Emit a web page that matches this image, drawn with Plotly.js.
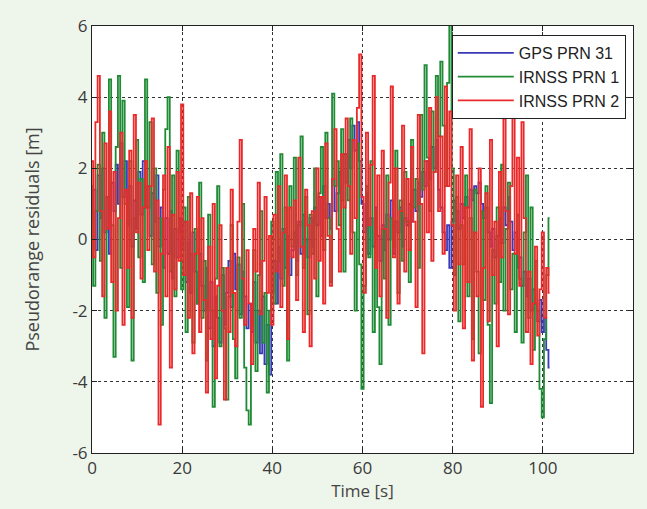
<!DOCTYPE html>
<html>
<head>
<meta charset="utf-8">
<script src="https://cdn.plot.ly/plotly-3.0.1.min.js"></script>
<style>html,body{margin:0;padding:0;background:#eef5ea;}#chart{width:647px;height:509px;}</style>
</head>
<body>
<div id="chart"></div>
<script>
// Sampling interval of the residual series [s]
const sampleInterval = 0.5;

const seriesNames = ["GPS PRN 31", "IRNSS PRN 1", "IRNSS PRN 2"];

const gpsPrn31 = [
  0.5, 1.4, -0.3, 1.8, 0.6, 2.0, 0.2, 1.2, -0.4, 1.6,
  0.8, 2.1, 1.0, 2.7, 1.2, 2.2, 0.4, 1.5, -0.2, 1.1,
  0.3, 1.9, 0.7, 2.2, 0.9, 1.5, 0.1, 1.3, 0.5, 1.8,
  -0.2, 0.9, -0.8, 0.6, -0.4, 0.8, -1.1, 0.3, -0.5, 0.6,
  -0.3, 0.5, -1.2, -0.1, -1.5, 0.2, -0.9, -1.8, -0.4, -1.3,
  -2.0, -0.8, -2.5, -1.2, -3.0, -1.6, -2.2, -2.9, -1.0, -2.4,
  -1.5, -0.6, -1.9, -0.4, -1.4, -0.7, -2.1, -0.9, -1.6, -2.5,
  -1.8, -2.6, -1.2, -2.9, -2.0, -3.2, -1.6, -3.5, -2.4, -3.8,
  -1.5, -0.6, -1.8, -0.2, -1.1, 0.3, -0.8, 0.1, -1.0, -0.3,
  0.2, -0.6, 0.5, -0.4, 0.7, 0.0, -0.5, 0.6, -0.2, 0.9,
  0.4, 1.2, 0.1, 1.5, 0.6, 1.0, 0.3, 1.7, 0.8, 1.3,
  1.9, 1.1, 2.4, 1.6, 2.8, 2.0, 3.2, 2.5, 3.3, 2.2,
  1.0, 0.2, 1.3, -0.4, 0.6, -0.2, 0.9, 0.1, -0.6, 0.4,
  -0.3, 0.7, 0.0, 1.1, -0.4, 0.5, 0.2, 0.9, -0.2, 0.6,
  0.4, 1.0, 0.5, 1.4, 0.8, 1.6, 1.2, 1.9, 1.5, 2.2,
  1.7, 2.6, 2.0, 2.8, 1.4, 0.9, 0.2, -0.3, 0.4, -0.8,
  0.5, 1.1, 0.8, 0.3, 1.0, 0.6, 1.2, 0.9, 1.4, 1.1,
  1.5, 1.3, 1.6, 1.0, 0.6, 0.9, 0.2, -0.2, 0.3, -0.5,
  0.1, 0.6, -0.1, 0.9, 0.4, 1.2, 0.5, -0.3, 0.2, -0.8,
  -0.5, -1.3, -0.9, -1.6, -1.1, -2.0, -1.4, -1.8, -2.3, -1.7,
  -2.6, -2.2, -3.1, -3.6
];

const irnssPrn1 = [
  1.5, -1.3, 0.8, 2.1, -0.6, 3.0, -2.2, 1.2, 4.5, 0.4,
  -3.3, 2.6, 4.6, -0.8, 3.9, 1.0, -1.9, 2.2, -3.4, 0.6,
  2.8, -0.5, 1.7, -1.2, 4.5, 0.9, 3.3, -0.7, 2.0, -1.5,
  0.6, -2.4, 1.4, 3.1, 4.0, -0.9, 1.8, -1.6, 2.5, 0.2,
  -1.4, 0.9, -2.6, 1.2, -0.4, -2.9, 0.3, -1.8, 1.6, -2.2,
  -0.6, -3.4, 0.7, -2.0, -4.7, -1.1, 1.5, -3.0, -0.8, -2.5,
  -4.5, -1.6, 0.4, -2.8, -3.9, -0.5, -2.2, 1.0, -3.6, -4.8,
  -5.2, -2.4, -0.3, -3.7, -1.0, 0.8, -2.9, -1.5, -4.3, -2.0,
  0.5, -1.8, 1.9, -0.6, 2.4, -1.3, 0.9, -3.4, 1.5, -0.2,
  2.3, -1.0, 0.4, 2.9, -0.8, 1.2, -2.1, 0.7, -0.4, 2.0,
  -1.6, 1.3, 2.6, -0.3, 3.0, 0.6, -1.2, 4.1, 1.5, 2.2,
  0.4, 3.1, -0.9, 2.4, 1.1, 3.4, 0.2, -2.0, 2.7, -0.7,
  -4.2, -1.3, 1.5, -0.5, 2.2, -2.6, 0.8, -1.9, -3.5, 0.3,
  -1.1, 1.8, -2.4, 0.6, -0.2, 2.5, -1.5, 1.1, -0.6, 1.9,
  0.5, -1.2, 2.8, 0.9, 1.7, -0.8, 3.5, 1.4, 4.9, 2.3,
  0.8, 3.6, 1.9, 4.6, 2.9, 5.0, 3.2, 1.5, 4.4, 6.2,
  2.0, -1.0, 1.2, -2.3, 0.4, -0.7, 1.8, -1.6, 0.6, -2.8,
  1.4, -0.9, -3.2, 0.8, -1.7, 1.5, -2.4, -4.6, -0.3, -1.8,
  0.9, -1.2, 2.1, -2.0, 0.3, 1.6, -1.4, -0.4, -2.6, 0.7,
  -1.1, -2.9, 0.2, 1.8, -2.2, 0.9, -3.1, -0.6, -2.0, -4.2,
  -5.0, -2.8, -1.0, 0.6
];

const irnssPrn2 = [
  2.2, -0.5, 3.3, 4.6, 0.8, -1.6, 2.7, 0.3, 3.6, -1.2,
  1.9, -2.0, 0.6, 3.0, -2.4, 1.4, -0.8, 2.5, -2.2, 3.5,
  0.2, 1.6, -1.1, 0.9, 2.2, -0.3, 1.5, 3.4, -0.9, 1.1,
  -5.2, -0.4, 1.8, -1.6, 2.6, -3.6, 0.7, -1.4, 1.9, -0.6,
  3.8, -1.0, 0.5, -2.2, 1.3, -3.2, -0.4, 1.2, -2.6, 0.6,
  -1.7, -4.3, -0.2, -2.8, 1.0, -3.9, -1.3, 0.4, -2.0, -4.5,
  -0.8, -2.6, 1.4, -1.5, -3.0, 0.5, 2.8, -1.1, -2.4, -0.3,
  -1.8, -3.5, 0.3, -0.9, 1.6, -2.1, -0.6, 1.2, -1.5, 0.1,
  -2.4, 0.7, -0.9, 1.5, -1.9, 0.2, 1.8, -2.8, 0.9, -0.5,
  1.1, -1.7, 2.3, -0.2, -2.6, 1.4, 0.4, -3.0, 0.8, -1.1,
  2.0, -0.6, 1.2, -1.8, 2.7, 0.1, -1.3, 1.7, 3.1, 0.3,
  -0.9, 2.4, 0.9, 3.4, 1.5, -0.4, 2.8, 0.6, 3.7, 5.2,
  1.2, -1.5, 3.0, 0.4, 2.1, 4.6, -0.8, 1.8, -1.6, 2.5,
  0.3, -2.2, 1.6, 4.3, -0.5, 2.0, -1.8, 0.8, 3.2, -0.9,
  1.7, -0.3, 2.6, 0.5, -1.9, 3.5, 1.0, -3.2, 2.2, 0.2,
  3.7, -0.6, 1.9, 4.0, 0.8, 2.9, -0.4, 4.3, 1.5, 3.6,
  0.4, -2.0, 1.8, -0.7, 2.6, -2.5, 0.9, -1.2, 3.1, -3.4,
  0.2, -1.6, 2.0, -4.7, -0.8, 1.3, -2.3, 2.8, -1.0, 0.5,
  -3.0, 1.9, -0.5, 3.4, 0.8, -2.1, 1.5, 3.6, -0.4, 2.3,
  -1.3, 3.3, 0.6, -2.6, -0.9, -3.5, -1.8, -0.2, -2.7, -1.4,
  0.2, -2.2, -0.8, -1.5
];

const xTickValues = [0, 20, 40, 60, 80, 100, 120];
const yTickValues = [-6, -4, -2, 0, 2, 4, 6];

const seriesValues = [gpsPrn31, irnssPrn1, irnssPrn2];
const seriesColors = ["#3a3ab8", "#1f8b35", "#ea2a2a"];

const traces = seriesValues.map((vals, k) => ({
  type: "scatter",
  mode: "lines",
  name: seriesNames[k],
  x: vals.map((_, i) => i * sampleInterval),
  y: vals,
  line: {color: seriesColors[k], width: 1.8, shape: "hvh"},
  cliponaxis: true
}));

const axisCommon = {
  showline: true,
  linecolor: "#222",
  linewidth: 1,
  mirror: "allticks",
  ticks: "inside",
  ticklen: 5,
  tickcolor: "#222",
  showgrid: true,
  gridcolor: "#333",
  griddash: "dot",
  gridwidth: 1,
  zeroline: false,
  tickfont: {family: "Open Sans, sans-serif", size: 17, color: "#3a3a3a"}
};

const layout = {
  width: 647,
  height: 509,
  paper_bgcolor: "#eef5ea",
  plot_bgcolor: "#ffffff",
  margin: {l: 92, r: 14, t: 26, b: 56},
  showlegend: true,
  xaxis: Object.assign({}, axisCommon, {
    range: [0, 120],
    tickvals: xTickValues,
    ticktext: xTickValues.map(String),
    title: {text: "Time [s]", font: {family: "Open Sans, sans-serif", size: 17, color: "#444"}, standoff: 6}
  }),
  yaxis: Object.assign({}, axisCommon, {
    range: [-6, 6],
    tickvals: yTickValues,
    ticktext: yTickValues.map(String),
    title: {text: "Pseudorange residuals [m]", font: {family: "Open Sans, sans-serif", size: 18, color: "#444"}, standoff: 28}
  }),
  legend: {
    x: 0.665, y: 0.979, xanchor: "left", yanchor: "top",
    bgcolor: "#ffffff",
    bordercolor: "#222",
    borderwidth: 1,
    itemwidth: 56,
    tracegroupgap: 0,
    font: {family: "Liberation Sans, Arial, sans-serif", size: 16, color: "#222"}
  }
};

Plotly.newPlot("chart", traces, layout, {displayModeBar: false, staticPlot: true});
</script>
</body>
</html>
